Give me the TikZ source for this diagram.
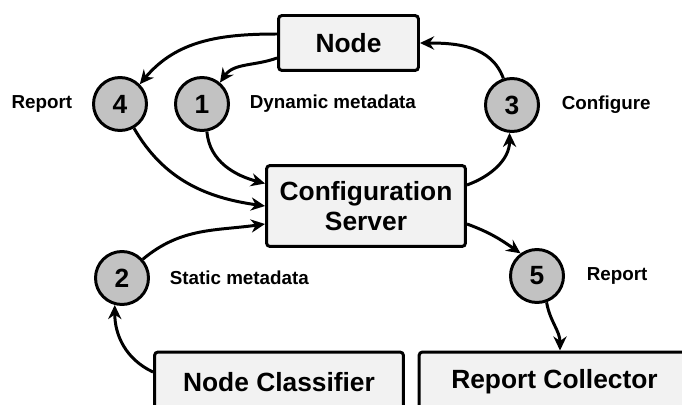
\documentclass[tikz,border=0pt]{standalone}
\usepackage{fontspec}
\setmainfont{Liberation Sans}
\usetikzlibrary{arrows.meta,positioning}
\definecolor{boxgray}{RGB}{242,242,242}
\definecolor{stepgray}{RGB}{194,194,194}
\tikzset{
  compbox/.style={rectangle, rounded corners=2pt, draw=black, line width=1.7pt,
                  fill=boxgray, font=\fontsize{15}{17}\selectfont\bfseries, align=center},
  stepcirc/.style={circle, draw=black, line width=1.7pt, fill=stepgray,
                   minimum size=1.06cm, inner sep=0pt, font=\fontsize{15}{17}\selectfont\bfseries},
  steplbl/.style={font=\fontsize{10.7}{12}\selectfont\bfseries, inner sep=2pt},
  flow/.style={-{Stealth[length=8pt,width=7.5pt]}, line width=1.7pt},
}
\begin{document}
\begin{tikzpicture}[x=0.02cm,y=0.02cm]
  \useasboundingbox (0,0) rectangle (682,-405);
  \clip (0,0) rectangle (682,-405);

  % components
  \node[compbox, minimum width=2.8cm, minimum height=1.1cm] (nodebox) at (348.5,-43) {Node};
  \node[compbox, minimum width=3.98cm, minimum height=1.62cm] (cfg) at (366,-206) {Configuration\\Server};
  \node[compbox, minimum width=4.98cm, minimum height=1.2cm] (nclass) at (279,-382) {Node Classifier};
  \node[compbox, minimum width=5.42cm, minimum height=1.2cm] (rcoll) at (554.5,-382) {Report Collector};

  % numbered steps
  \node[stepcirc] (s4) at (120,-104) {4};
  \node[stepcirc] (s1) at (202,-104) {1};
  \node[stepcirc] (s3) at (512,-105) {3};
  \node[stepcirc] (s2) at (122,-278) {2};
  \node[stepcirc] (s5) at (537,-276) {5};

  % step labels
  \node[steplbl, left=0.32cm of s4] (l4) {Report};
  \node[steplbl, right=0.32cm of s1] (l1) {Dynamic metadata};
  \node[steplbl, right=0.36cm of s3] (l3) {Configure};
  \node[steplbl, right=0.32cm of s2] (l2) {Static metadata};
  \node[steplbl, right=0.36cm of s5] (l5) {Report};

  % flows
  \draw[flow] ([yshift=0.18cm]nodebox.west) to[out=180,in=50] (s4.45);
  \draw[flow] ([yshift=-0.3cm]nodebox.west) to[out=200,in=55] (s1.50);
  \draw[flow] (s1.-80) to[out=-85,in=165] ([yshift=0.45cm]cfg.west);
  \draw[flow] (s4.-60) to[out=-60,in=172] (cfg.west);
  \draw[flow] (s2.42) to[out=40,in=188] ([yshift=-0.36cm]cfg.west);
  \draw[flow] ([yshift=0.2cm]nclass.west) to[out=155,in=-90] (s2.-105);
  \draw[flow] ([yshift=0.42cm]cfg.east) to[out=20,in=-90] (s3.-95);
  \draw[flow] (s3.108) to[out=110,in=0] (nodebox.east);
  \draw[flow] ([yshift=-0.36cm]cfg.east) to[out=-20,in=145] (s5.126);
  \draw[flow] (s5.-70) to[out=-80,in=90] ([xshift=0.11cm]rcoll.north);
\end{tikzpicture}
\end{document}
